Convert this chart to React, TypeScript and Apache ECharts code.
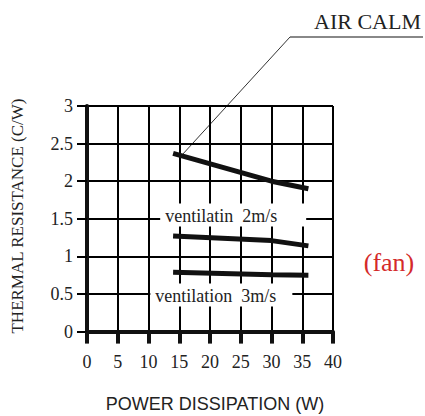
import React, { useEffect, useRef } from "react";
import * as echarts from "echarts";

// X = power dissipation (W), Y = thermal resistance (C/W)
const airCalmX = [14, 30, 36];
const airCalmY = [2.37, 2.0, 1.9];
const vent2X = [14, 30, 36];
const vent2Y = [1.27, 1.21, 1.14];
const vent3X = [14, 30, 36];
const vent3Y = [0.79, 0.755, 0.75];

const xMin = 0;
const xMax = 40;
const xStep = 5;
const yMin = 0;
const yMax = 3;
const yStep = 0.5;

// in-plot annotations (anchor in data coordinates)
const annoText = ["ventilatin  2m/s", "ventilation  3m/s"];
const annoX = [11.9, 10.3];
const annoY = [1.55, 0.487];

const SERIF = "'Times New Roman', 'Liberation Serif', serif";
const SANS = "Arial, 'Liberation Sans', sans-serif";

const pairs = (xs: number[], ys: number[]) => xs.map((x, i) => [x, ys[i]]);

export default function App() {
  const ref = useRef<HTMLDivElement>(null);
  useEffect(() => {
    if (!ref.current) return;
    const chart = echarts.init(ref.current, null, { renderer: "svg" });
    const lineStyle = { color: "#111", width: 5 };
    const boxWidths = [146, 142];
    chart.setOption({
      animation: false,
      backgroundColor: "#fff",
      textStyle: { fontFamily: SERIF },
      grid: { left: 87, top: 106, width: 246, height: 225.6 },
      xAxis: {
        type: "value",
        min: xMin,
        max: xMax,
        interval: xStep,
        axisLine: { show: true, onZero: false, lineStyle: { color: "#111", width: 4 } },
        axisTick: { show: true, length: 12, lineStyle: { color: "#111", width: 4 } },
        splitLine: { show: true, lineStyle: { color: "#000", width: 2 } },
        axisLabel: { margin: 21, fontFamily: SERIF, fontSize: 18, color: "#222" },
      },
      yAxis: {
        type: "value",
        min: yMin,
        max: yMax,
        interval: yStep,
        axisLine: { show: true, onZero: false, lineStyle: { color: "#111", width: 4 } },
        axisTick: { show: true, length: 10, lineStyle: { color: "#000", width: 2 } },
        splitLine: { show: true, lineStyle: { color: "#000", width: 2 } },
        axisLabel: {
          margin: 14,
          fontFamily: SERIF,
          fontSize: 18,
          color: "#222",
          formatter: (v: number) => String(v),
        },
      },
      series: [
        {
          name: "AIR CALM",
          type: "line",
          data: pairs(airCalmX, airCalmY),
          showSymbol: false,
          symbol: "none",
          lineStyle,
          z: 5,
        },
        {
          name: "ventilation 2m/s",
          type: "line",
          data: pairs(vent2X, vent2Y),
          showSymbol: false,
          symbol: "none",
          lineStyle,
          z: 5,
        },
        {
          name: "ventilation 3m/s",
          type: "line",
          data: pairs(vent3X, vent3Y),
          showSymbol: false,
          symbol: "none",
          lineStyle,
          z: 5,
        },
        {
          type: "custom",
          z: 6,
          silent: true,
          data: annoText.map((t, i) => [annoX[i], annoY[i], i]),
          renderItem: (params: any, api: any) => {
            const i = api.value(2);
            const p = api.coord([api.value(0), api.value(1)]);
            return {
              type: "group",
              children: [
                {
                  type: "rect",
                  shape: { x: p[0], y: p[1] - 11.5, width: boxWidths[i], height: 23 },
                  style: { fill: "#fff" },
                },
                {
                  type: "text",
                  x: p[0] + 5,
                  y: p[1] + 1,
                  style: {
                    text: annoText[i],
                    fontFamily: SERIF,
                    fontSize: 18,
                    fill: "#222",
                    align: "left",
                    verticalAlign: "middle",
                  },
                },
              ],
            };
          },
        },
      ],
      graphic: [
        {
          type: "text",
          x: 314,
          y: 21,
          style: {
            text: "AIR CALM",
            fontFamily: SERIF,
            fontSize: 22,
            fill: "#222",
            align: "left",
            verticalAlign: "middle",
          },
        },
        {
          type: "line",
          shape: { x1: 290, y1: 37, x2: 423, y2: 37 },
          style: { stroke: "#888", lineWidth: 2 },
        },
        {
          type: "line",
          shape: { x1: 290, y1: 37, x2: 182, y2: 155 },
          style: { stroke: "#333", lineWidth: 1 },
        },
        {
          type: "text",
          x: 389,
          y: 262,
          style: {
            text: "(fan)",
            fontFamily: SERIF,
            fontSize: 26,
            fill: "#d42a2a",
            align: "center",
            verticalAlign: "middle",
          },
        },
        {
          type: "text",
          x: 17,
          y: 216,
          rotation: Math.PI / 2,
          style: {
            text: "THERMAL RESISTANCE (C/W)",
            fontFamily: SERIF,
            fontSize: 17,
            fill: "#222",
            align: "center",
            verticalAlign: "middle",
          },
        },
        {
          type: "text",
          x: 215,
          y: 404,
          style: {
            text: "POWER DISSIPATION (W)",
            fontFamily: SANS,
            fontSize: 18,
            fill: "#222",
            align: "center",
            verticalAlign: "middle",
          },
        },
      ],
    });
    return () => chart.dispose();
  }, []);
  return (
    <div
      ref={ref}
      style={{ position: "absolute", left: 0, top: 0, width: 425, height: 416 }}
    />
  );
}
